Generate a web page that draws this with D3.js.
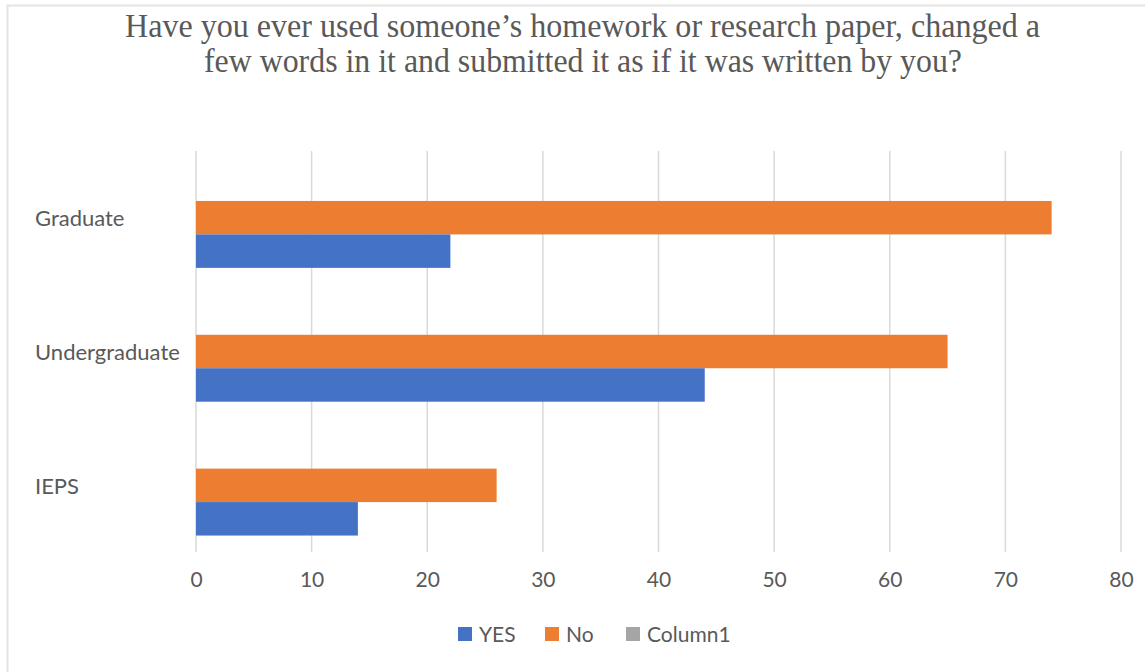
<!DOCTYPE html>
<html>
<head>
<meta charset="utf-8">
<script src="https://cdn.jsdelivr.net/npm/d3@7"></script>
<style>
  html, body { margin: 0; padding: 0; background: #fff; }
  svg { display: block; }
</style>
</head>
<body>
<svg id="chart" width="1145" height="672"></svg>
<script>
// Survey responses by student group
const categories = ["IEPS", "Undergraduate", "Graduate"];
const yesValues = [14, 44, 22];
const noValues = [26, 65, 74];
const column1Values = [null, null, null];
const seriesNames = ["YES", "No", "Column1"];
const seriesColors = ["#4472C4", "#ED7D31", "#A5A5A5"];
const xTicks = [0, 10, 20, 30, 40, 50, 60, 70, 80];
const titleLines = [
  "Have you ever used someone\u2019s homework or research paper, changed a",
  "few words in it and submitted it as if it was written by you?"
];

const svg = d3.select("#chart");
const W = 1145, H = 672;

svg.append("rect").attr("width", W).attr("height", H).attr("fill", "#fff");
// chart area frame
svg.append("rect")
  .attr("x", 7.5).attr("y", 5.5)
  .attr("width", W + 20).attr("height", H + 20)
  .attr("fill", "none").attr("stroke", "#e4e4e4").attr("stroke-width", 2);

const plot = { left: 196, right: 1121, gridTop: 151, gridBottom: 552 };

const x = d3.scaleLinear().domain([0, 80]).range([plot.left, plot.right]);
const y = d3.scaleBand()
  .domain(categories.slice().reverse())
  .range([167.5, 569])
  .paddingInner(0.5)
  .paddingOuter(0.25);
const ySub = d3.scaleBand().domain(["No", "YES"]).range([0, y.bandwidth()]);

// gridlines
svg.append("g")
  .selectAll("line")
  .data(xTicks)
  .join("line")
  .attr("x1", d => x(d)).attr("x2", d => x(d))
  .attr("y1", plot.gridTop).attr("y2", plot.gridBottom)
  .attr("stroke", "#d9d9d9").attr("stroke-width", 1.5);

// x axis labels
const xAxis = d3.axisBottom(x).tickValues(xTicks).tickSize(0).tickPadding(0);
const gx = svg.append("g").attr("transform", `translate(0, ${plot.gridBottom + 35})`).call(xAxis);
gx.select(".domain").remove();
gx.selectAll("text")
  .attr("dy", "0")
  .attr("y", 0)
  .attr("font-family", "Lato, 'Open Sans', sans-serif")
  .attr("font-size", 21)
  .attr("fill", "#595959");

// bars
const rows = categories.map((c, i) => ({ cat: c, YES: yesValues[i], No: noValues[i], Column1: column1Values[i] }));
const barSeries = [
  { key: "No", color: seriesColors[1] },
  { key: "YES", color: seriesColors[0] }
];
barSeries.forEach(s => {
  svg.append("g")
    .selectAll("rect")
    .data(rows.filter(r => r[s.key] != null))
    .join("rect")
    .attr("x", x(0))
    .attr("y", d => y(d.cat) + ySub(s.key))
    .attr("width", d => x(d[s.key]) - x(0))
    .attr("height", ySub.bandwidth())
    .attr("fill", s.color);
});

// category labels
svg.append("g")
  .selectAll("text")
  .data(categories)
  .join("text")
  .attr("x", 35)
  .attr("y", d => y(d) + y.bandwidth() / 2 - 16)
  .attr("dy", "0.35em")
  .attr("font-family", "Lato, 'Open Sans', sans-serif")
  .attr("font-size", 22)
  .attr("fill", "#595959")
  .text(d => d);

// title
const titleSpecs = [
  { y: 37, x1: 125, x2: 1040 },
  { y: 72, x1: 204, x2: 962 }
];
svg.append("g")
  .selectAll("text")
  .data(titleLines)
  .join("text")
  .attr("x", (d, i) => titleSpecs[i].x1)
  .attr("y", (d, i) => titleSpecs[i].y)
  .attr("textLength", (d, i) => titleSpecs[i].x2 - titleSpecs[i].x1)
  .attr("lengthAdjust", "spacingAndGlyphs")
  .attr("font-family", "'Liberation Serif', 'Times New Roman', serif")
  .attr("font-size", 34)
  .attr("fill", "#595959")
  .text(d => d);

// legend
const legendItems = [
  { name: seriesNames[0], color: seriesColors[0], x: 458 },
  { name: seriesNames[1], color: seriesColors[1], x: 545 },
  { name: seriesNames[2], color: seriesColors[2], x: 626 }
];
const lg = svg.append("g").selectAll("g").data(legendItems).join("g")
  .attr("transform", d => `translate(${d.x}, 627)`);
lg.append("rect").attr("width", 14).attr("height", 14).attr("fill", d => d.color);
lg.append("text")
  .attr("x", 21).attr("y", 7).attr("dy", "0.36em")
  .attr("font-family", "Lato, 'Open Sans', sans-serif")
  .attr("font-size", 21)
  .attr("fill", "#595959")
  .text(d => d.name);
</script>
</body>
</html>
